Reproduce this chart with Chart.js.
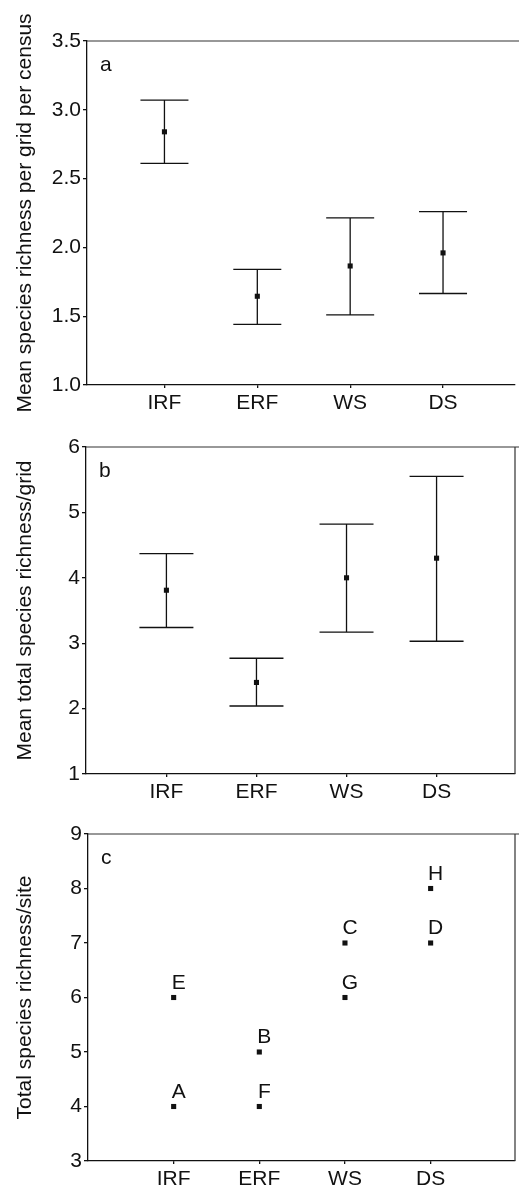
<!DOCTYPE html>
<html>
<head>
<meta charset="utf-8">
<script src="https://cdn.jsdelivr.net/npm/chart.js@4.4.1/dist/chart.umd.min.js"></script>
<style>
  html, body { margin: 0; padding: 0; background: #fff; }
  body { width: 519px; height: 1190px; position: relative; overflow: hidden; }
  canvas { position: absolute; left: 0; }
</style>
</head>
<body>
<canvas id="chartA" width="519" height="420" style="top:0px"></canvas>
<canvas id="chartB" width="519" height="389" style="top:420px"></canvas>
<canvas id="chartC" width="519" height="381" style="top:809px"></canvas>
<script>
// Categorias (habitats)
const categories = ['IRF', 'ERF', 'WS', 'DS'];

// Painel a: riqueza média por grid por censo
const meanA = [2.84, 1.645, 1.865, 1.96];
const lowA = [2.61, 1.44, 1.51, 1.665];
const highA = [3.07, 1.84, 2.215, 2.26];

// Painel b: riqueza total média por grid
const meanB = [3.81, 2.40, 4.00, 4.30];
const lowB = [3.24, 2.04, 3.17, 3.03];
const highB = [4.37, 2.77, 4.82, 5.55];

// Painel c: riqueza total por sítio
const siteLabels = ['A', 'E', 'B', 'F', 'C', 'G', 'H', 'D'];
const siteCategory = ['IRF', 'IRF', 'ERF', 'ERF', 'WS', 'WS', 'DS', 'DS'];
const siteRichness = [4, 6, 5, 4, 7, 6, 8, 7];

const FONT = { family: "'Liberation Sans', Arial, sans-serif", size: 21 };
const INK = '#111';

// Barras de erro
const errorBars = {
    id: 'errorBars',
    beforeDatasetsDraw(chart, args, opts) {
        if (!opts.low) return;
        const ctx = chart.ctx;
        const x = chart.scales.x, y = chart.scales.y;
        ctx.save();
        ctx.strokeStyle = INK;
        ctx.lineWidth = 1.3;
        opts.low.forEach((lo, i) => {
            const px = x.getPixelForValue(i + 1);
            const yl = y.getPixelForValue(lo);
            const yh = y.getPixelForValue(opts.high[i]);
            ctx.beginPath();
            ctx.moveTo(px, yh); ctx.lineTo(px, yl);
            ctx.moveTo(px - opts.cap, yh); ctx.lineTo(px + opts.cap, yh);
            ctx.moveTo(px - opts.cap, yl); ctx.lineTo(px + opts.cap, yl);
            ctx.stroke();
        });
        ctx.restore();
    }
};

// Moldura (linha superior e direita) + letra do painel
const frame = {
    id: 'frame',
    afterDraw(chart, args, opts) {
        const ctx = chart.ctx;
        const a = chart.chartArea;
        ctx.save();
        ctx.strokeStyle = '#333';
        ctx.lineWidth = 1.2;
        ctx.beginPath();
        ctx.moveTo(a.left, a.top); ctx.lineTo(chart.width, a.top);
        if (opts.right) { ctx.moveTo(a.right, a.top); ctx.lineTo(a.right, a.bottom); }
        ctx.stroke();
        ctx.fillStyle = INK;
        ctx.font = FONT.size + 'px ' + FONT.family;
        ctx.textAlign = 'left';
        ctx.textBaseline = 'alphabetic';
        ctx.fillText(opts.letter, a.left + 13, a.top + 30);
        ctx.restore();
    }
};

// Rótulos dos sítios (painel c)
const siteText = {
    id: 'siteText',
    afterDatasetsDraw(chart, args, opts) {
        if (!opts.labels) return;
        const ctx = chart.ctx;
        ctx.save();
        ctx.fillStyle = INK;
        ctx.font = FONT.size + 'px ' + FONT.family;
        ctx.textAlign = 'center';
        ctx.textBaseline = 'alphabetic';
        chart.getDatasetMeta(0).data.forEach((pt, i) => {
            ctx.fillText(opts.labels[i], pt.x + 5, pt.y - 9);
        });
        ctx.restore();
    }
};

function makeOptions(cfg) {
    return {
        responsive: false,
        animation: false,
        events: [],
        layout: { padding: { top: cfg.padTop, right: 1, bottom: 0, left: 0 } },
        plugins: {
            legend: { display: false },
            tooltip: { enabled: false },
            errorBars: { low: cfg.low, high: cfg.high, cap: cfg.cap },
            frame: { letter: cfg.letter, right: cfg.right },
            siteText: { labels: cfg.labels }
        },
        scales: {
            x: {
                type: 'linear',
                min: cfg.xMin,
                max: cfg.xMax,
                afterBuildTicks: s => { s.ticks = categories.map((c, i) => ({ value: i + 1 })); },
                afterFit: s => { s.height = cfg.xHeight; },
                ticks: {
                    callback: v => categories[v - 1],
                    font: FONT,
                    color: INK,
                    padding: 3,
                    autoSkip: false,
                    maxRotation: 0
                },
                grid: { drawOnChartArea: false, tickLength: 3, color: INK, lineWidth: 1.3 },
                border: { color: INK, width: 1.3 }
            },
            y: {
                min: cfg.yMin,
                max: cfg.yMax,
                afterFit: s => { s.width = cfg.left; },
                ticks: {
                    stepSize: cfg.step,
                    callback: v => v.toFixed(cfg.decimals),
                    font: FONT,
                    color: INK,
                    padding: 2
                },
                grid: { drawOnChartArea: false, tickLength: 4, color: INK, lineWidth: 1.3 },
                border: { color: INK, width: 1.3 },
                title: {
                    display: true,
                    text: cfg.title,
                    font: FONT,
                    color: INK,
                    padding: { top: 13, bottom: 0 }
                }
            }
        }
    };
}

function meanDataset(values) {
    return [{
        data: values.map((v, i) => ({ x: i + 1, y: v })),
        pointStyle: 'rect',
        pointRadius: 3.6,
        backgroundColor: INK,
        borderWidth: 0
    }];
}

const plugins = [errorBars, frame, siteText];

// Gráfico a
new Chart(document.getElementById('chartA'), {
    type: 'scatter',
    data: { datasets: meanDataset(meanA) },
    options: makeOptions({
        padTop: 41, left: 87, xHeight: 35, xMin: 0.166, xMax: 4.775,
        yMin: 1, yMax: 3.5, step: 0.5, decimals: 1,
        title: 'Mean species richness per grid per census',
        low: lowA, high: highA, cap: 24, letter: 'a', right: false
    }),
    plugins: plugins
});

// Gráfico b
new Chart(document.getElementById('chartB'), {
    type: 'scatter',
    data: { datasets: meanDataset(meanB) },
    options: makeOptions({
        padTop: 27, left: 86, xHeight: 35, xMin: 0.107, xMax: 4.871,
        yMin: 1, yMax: 6, step: 1, decimals: 0,
        title: 'Mean total species richness/grid',
        low: lowB, high: highB, cap: 27, letter: 'b', right: true
    }),
    plugins: plugins
});

// Gráfico c
new Chart(document.getElementById('chartC'), {
    type: 'scatter',
    data: {
        datasets: [{
            data: siteRichness.map((v, i) => ({ x: categories.indexOf(siteCategory[i]) + 1, y: v })),
            pointStyle: 'rect',
            pointRadius: 3.6,
            backgroundColor: INK,
            borderWidth: 0
        }]
    },
    options: makeOptions({
        padTop: 25, left: 88, xHeight: 29, xMin: 0, xMax: 4.985,
        yMin: 3, yMax: 9, step: 1, decimals: 0,
        title: 'Total species richness/site',
        labels: siteLabels, letter: 'c', right: true
    }),
    plugins: plugins
});
</script>
</body>
</html>
